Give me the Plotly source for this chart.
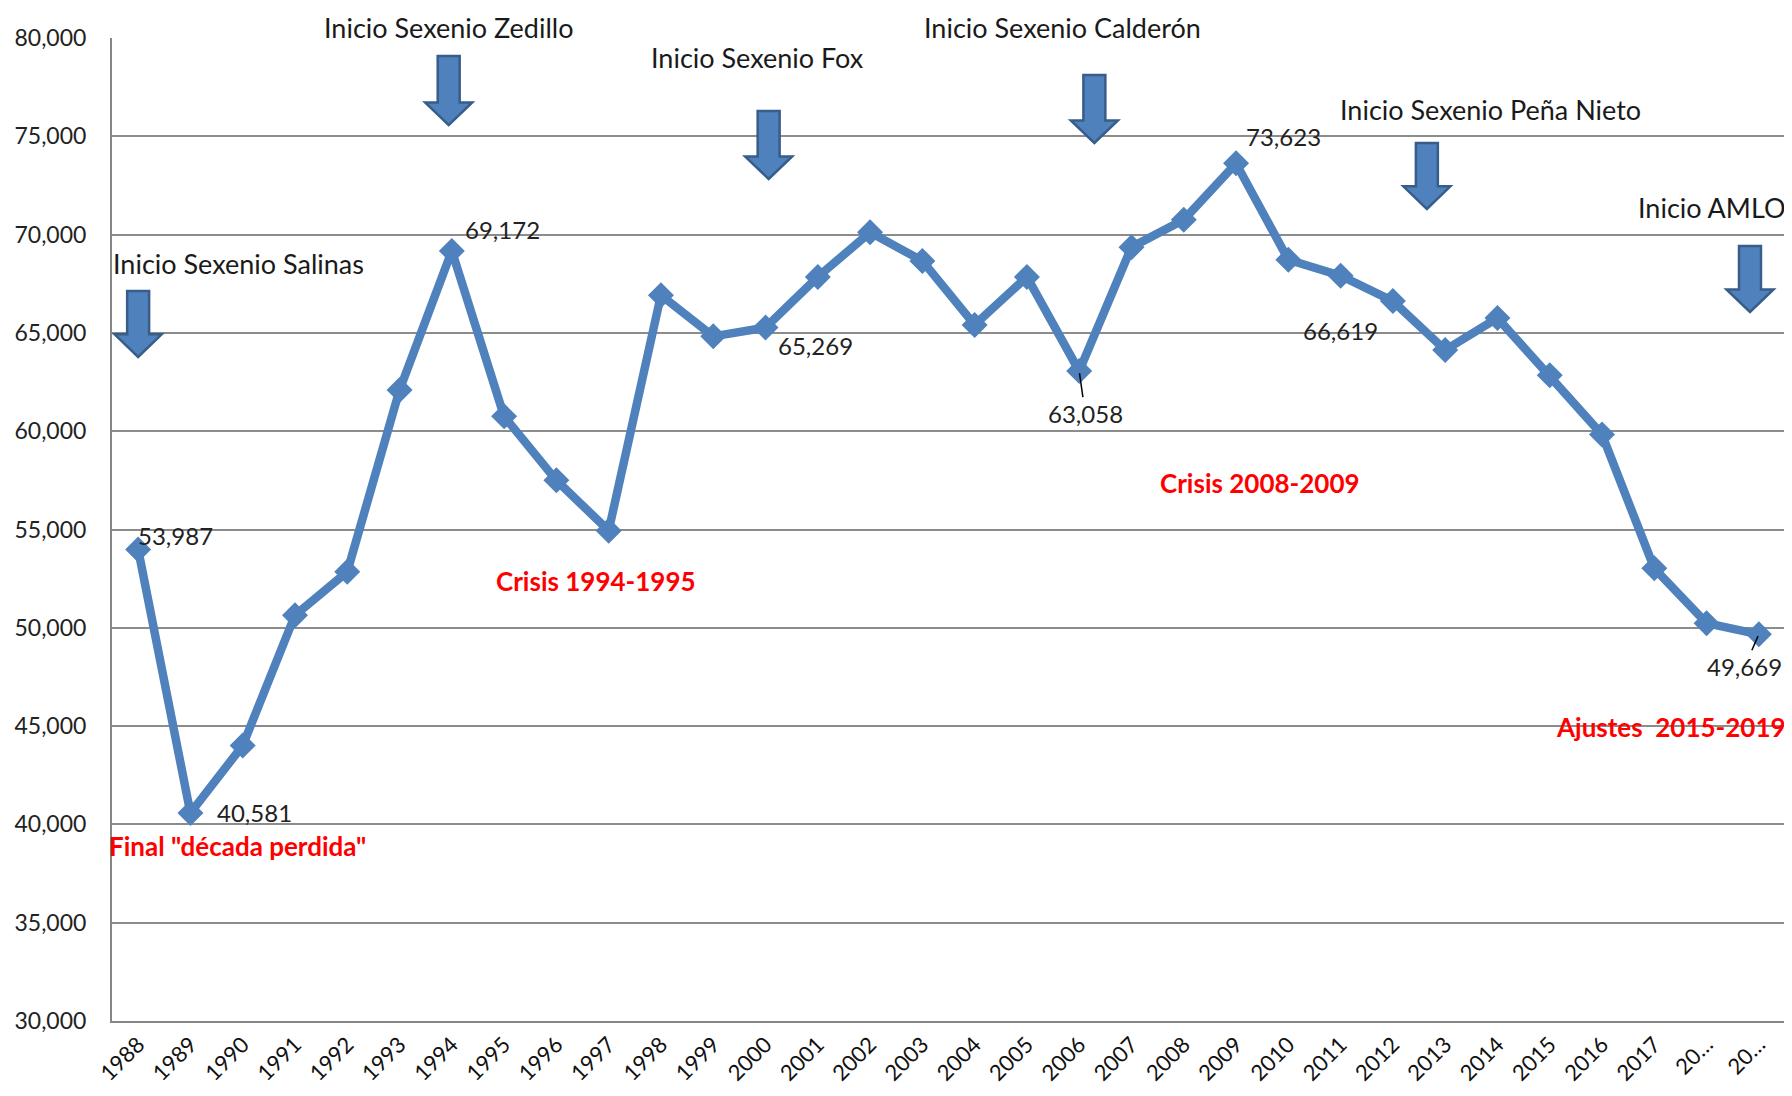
import plotly.graph_objects as go

years = [str(y) for y in range(1988, 2018)] + ["20…", "20…"]
values = [53987, 40581, 44012, 50640, 52849, 62093, 69172, 60756, 57500, 54942,
          66919, 64826, 65269, 67849, 70116, 68663, 65407, 67849, 63058, 69360,
          70756, 73623, 68721, 67907, 66619, 64128, 65756, 62849, 59826, 53023,
          50233, 49669]
y_ticks = list(range(30000, 80001, 5000))

idx = list(range(len(values)))
BLUE = "#4F81BD"
DARK = "#385D8A"

fig = go.Figure()
fig.add_trace(go.Scatter(
    x=idx, y=values, mode="lines+markers",
    line=dict(color=BLUE, width=8.5),
    marker=dict(symbol="diamond", size=20, color=BLUE),
    showlegend=False, cliponaxis=False))

# block arrows (decorations): (x center index, top value, tip value)
arrows = [(0.0, 67132, 63776), (5.94, 79084, 75572), (12.06, 76287, 72828),
          (18.29, 78118, 74660), (24.65, 74660, 71303), (30.83, 69421, 66063)]
shapes = []
for xc, yt, yb in arrows:
    sw, hw, hh = 0.21, 0.45, 1150
    p = (f"M {xc-sw},{yt} L {xc+sw},{yt} L {xc+sw},{yb+hh} L {xc+hw},{yb+hh} "
         f"L {xc},{yb} L {xc-hw},{yb+hh} L {xc-sw},{yb+hh} Z")
    shapes.append(dict(type="path", path=p, xref="x", yref="y",
                       fillcolor=BLUE, line=dict(color=DARK, width=2.5)))

ann = []
TF = dict(family="Lato", size=27, color="#1a1a1a")
# titles above the plot area (paper coords)
for t, x in [("Inicio Sexenio Zedillo", 5.94), ("Inicio Sexenio Calderón", 17.68)]:
    ann.append(dict(text=t, x=x, y=1.011, xref="x", yref="paper", yanchor="middle",
                    showarrow=False, font=TF))
black_txt = [("Inicio Sexenio Fox", 11.84, 78983), ("Inicio Sexenio Peña Nieto", 25.87, 76338),
             ("Inicio Sexenio Salinas", 1.92, 68505)]
for t, x, y in black_txt:
    ann.append(dict(text=t, x=x, y=y, xref="x", yref="y", showarrow=False, font=TF))
ann.append(dict(text="Inicio AMLO", x=1.0015, y=71404, xref="paper", yref="y",
                xanchor="right", showarrow=False, font=TF))

RF = dict(family="Lato", size=26, color="#FF0000")
red_txt = [("Crisis 1994-1995", 8.76, 52381), ("Crisis 2008-2009", 21.45, 57366),
           ("Final \"década perdida\"", 1.9, 38903)]
for t, x, y in red_txt:
    ann.append(dict(text=f"<b>{t}</b>", x=x, y=y, xref="x", yref="y", showarrow=False, font=RF))
ann.append(dict(text="<b>Ajustes  2015-2019</b>", x=1.0015, y=44957, xref="paper", yref="y",
                xanchor="right", showarrow=False, font=RF))

# data labels: (index, xanchor, xshift, yshift)
LF = dict(family="Lato", size=24, color="#222")
lbl = [(0, "left", -2, 14), (1, "left", 25, 0), (6, "left", 11, 21), (12, "left", 10, -18),
       (21, "left", 8, 27), (24, "right", -13, -29)]
for i, xa, xs, ys in lbl:
    ann.append(dict(text=f"{values[i]:,}", x=i, y=values[i], xref="x", yref="y",
                    showarrow=False, xanchor=xa, xshift=xs, yshift=ys, font=LF))
for i, ax, ay in [(18, 6, 42), (31, -14, 32)]:
    ann.append(dict(text=f"{values[i]:,}", x=i, y=values[i], xref="x", yref="y",
                    showarrow=True, arrowhead=0, arrowwidth=1.5, arrowcolor="black",
                    ax=ax, ay=ay, standoff=2, font=LF))

# page body has an 8px default margin, so the figure is sized to fit the window
fig.update_layout(
    width=1784, height=1088, autosize=False,
    margin=dict(l=104, r=7, t=30, b=75),
    paper_bgcolor="white", plot_bgcolor="white",
    shapes=shapes, annotations=ann,
    xaxis=dict(range=[-0.5, len(values) - 0.5], tickvals=idx, ticktext=years,
               tickangle=-45, showgrid=False, showline=True, linecolor="#868686",
               linewidth=2, zeroline=False, automargin=False,
               tickfont=dict(family="Lato", size=22, color="#111")),
    yaxis=dict(range=[30000, 80000], tickvals=y_ticks, tickformat=",",
               showgrid=True, gridcolor="#8c8c8c", gridwidth=2,
               showline=True, linecolor="#868686", linewidth=2, zeroline=False,
               ticks="", ticklen=0, automargin=False, ticklabelstandoff=19,
               tickfont=dict(family="Lato", size=23, color="#222")),
)
fig.write_html("out.html")
